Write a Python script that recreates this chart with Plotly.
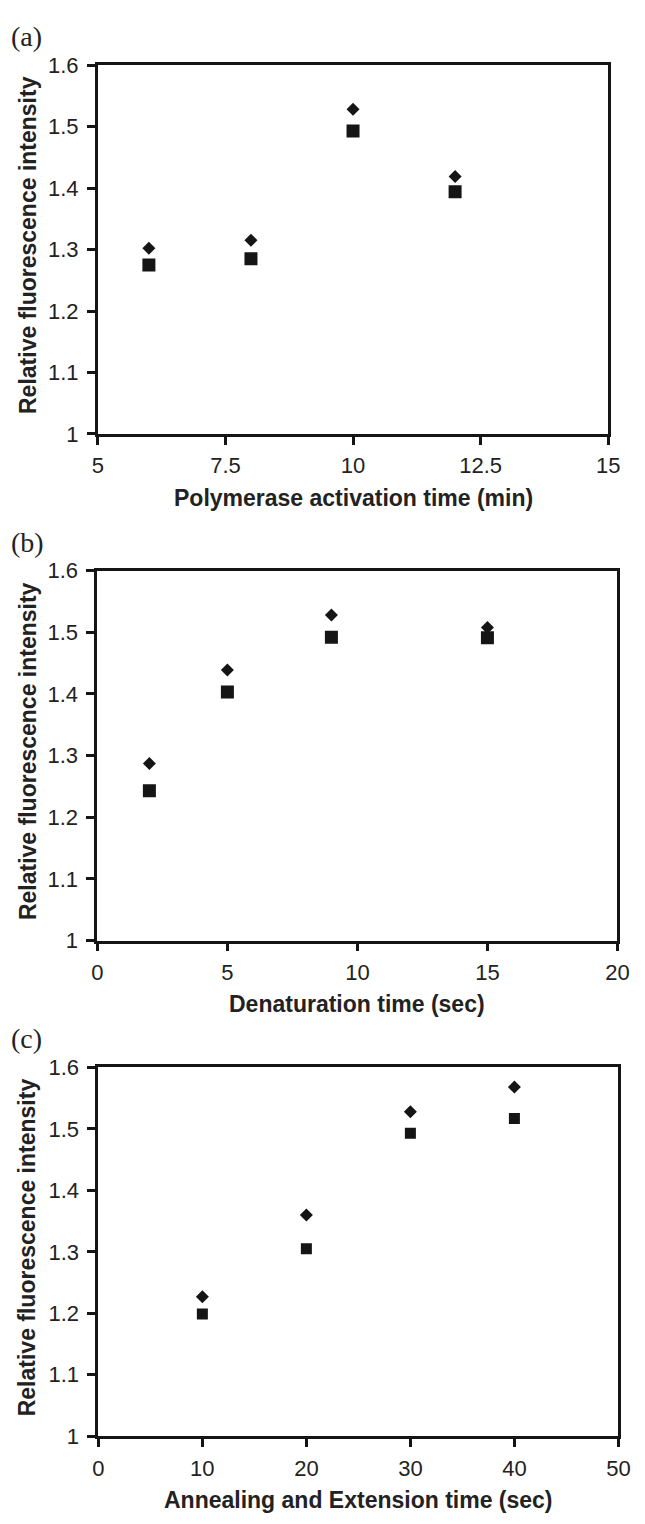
import plotly.graph_objects as go

# ---- data ----
a_x = [6, 8, 10, 12]
a_diamond = [1.302, 1.315, 1.528, 1.419]
a_square = [1.275, 1.285, 1.493, 1.394]

b_x = [2, 5, 9, 15]
b_diamond = [1.287, 1.439, 1.528, 1.508]
b_square = [1.243, 1.403, 1.492, 1.491]

c_x = [10, 20, 30, 40]
c_diamond = [1.227, 1.360, 1.528, 1.568]
c_square = [1.199, 1.305, 1.493, 1.517]

y_ticks = [1, 1.1, 1.2, 1.3, 1.4, 1.5, 1.6]
a_xticks = [5, 7.5, 10, 12.5, 15]
b_xticks = [0, 5, 10, 15, 20]
c_xticks = [0, 10, 20, 30, 40, 50]

panel_labels = ["(a)", "(b)", "(c)"]
x_titles = ["Polymerase activation time (min)", "Denaturation time (sec)",
            "Annealing and Extension time (sec)"]
y_title = "Relative fluorescence intensity"

W, H = 645, 1524
INK = "#151515"
FONT = "Liberation Sans, Arial, sans-serif"

# panel boxes in pixels: (left, right, top, bottom)
boxes = [(94.5, 619.5, 54, 429), (94, 629, 568, 944), (95, 630, 1073, 1448)]
xranges = [[5, 15], [0, 20], [0, 50]]
square_sizes = [13, 13, 11]

fig = go.Figure()
panels = [(a_x, a_diamond, a_square, a_xticks),
          (b_x, b_diamond, b_square, b_xticks),
          (c_x, c_diamond, c_square, c_xticks)]

annotations = []
for i, (xs, dia, sq, xt) in enumerate(panels):
    n = "" if i == 0 else str(i + 1)
    l, r, t, b = boxes[i]
    fig.add_trace(go.Scatter(x=xs, y=dia, mode="markers", xaxis="x" + n, yaxis="y" + n,
                             marker=dict(symbol="diamond", size=10, color=INK),
                             showlegend=False))
    fig.add_trace(go.Scatter(x=xs, y=sq, mode="markers", xaxis="x" + n, yaxis="y" + n,
                             marker=dict(symbol="square", size=square_sizes[i], color=INK),
                             showlegend=False))
    axis_common = dict(showline=True, linewidth=2.8, linecolor=INK, mirror=True,
                       showgrid=False, zeroline=False, ticks="outside", ticklen=8,
                       tickwidth=2.5, tickcolor=INK,
                       tickfont=dict(family=FONT, size=22, color="#222"))
    fig.update_layout(**{
        "xaxis" + n: dict(domain=[l / W, r / W], range=xranges[i], tickvals=xt,
                          anchor="y" + n, ticklabelstandoff=2, **axis_common),
        "yaxis" + n: dict(domain=[1 - b / H, 1 - t / H], range=[1, 1.6], tickvals=y_ticks,
                          anchor="x" + n, ticklabelstandoff=4, **axis_common),
    })
    # panel label
    annotations.append(dict(text=panel_labels[i], x=3 / W, y=1 - (t - 29) / H,
                            xref="paper", yref="paper", xanchor="left", yanchor="middle",
                            showarrow=False,
                            font=dict(family="Liberation Serif, Times New Roman, serif",
                                      size=28, color="#222")))
    # x title
    annotations.append(dict(text=x_titles[i], x=(l + r) / 2 / W, y=1 - (b + 65) / H,
                            xref="paper", yref="paper", xanchor="center", yanchor="middle",
                            showarrow=False,
                            font=dict(family=FONT, size=23, color="#222", weight="bold")))
    # y title
    annotations.append(dict(text=y_title, x=22 / W, y=1 - ((t + b) / 2 - 5) / H,
                            xref="paper", yref="paper", xanchor="center", yanchor="middle",
                            textangle=-90, showarrow=False,
                            font=dict(family=FONT, size=23, color="#222", weight="bold")))

fig.update_layout(width=W, height=H, margin=dict(l=0, r=0, t=0, b=0),
                  plot_bgcolor="white", paper_bgcolor="white",
                  annotations=annotations)

fig.write_html("out.html")
